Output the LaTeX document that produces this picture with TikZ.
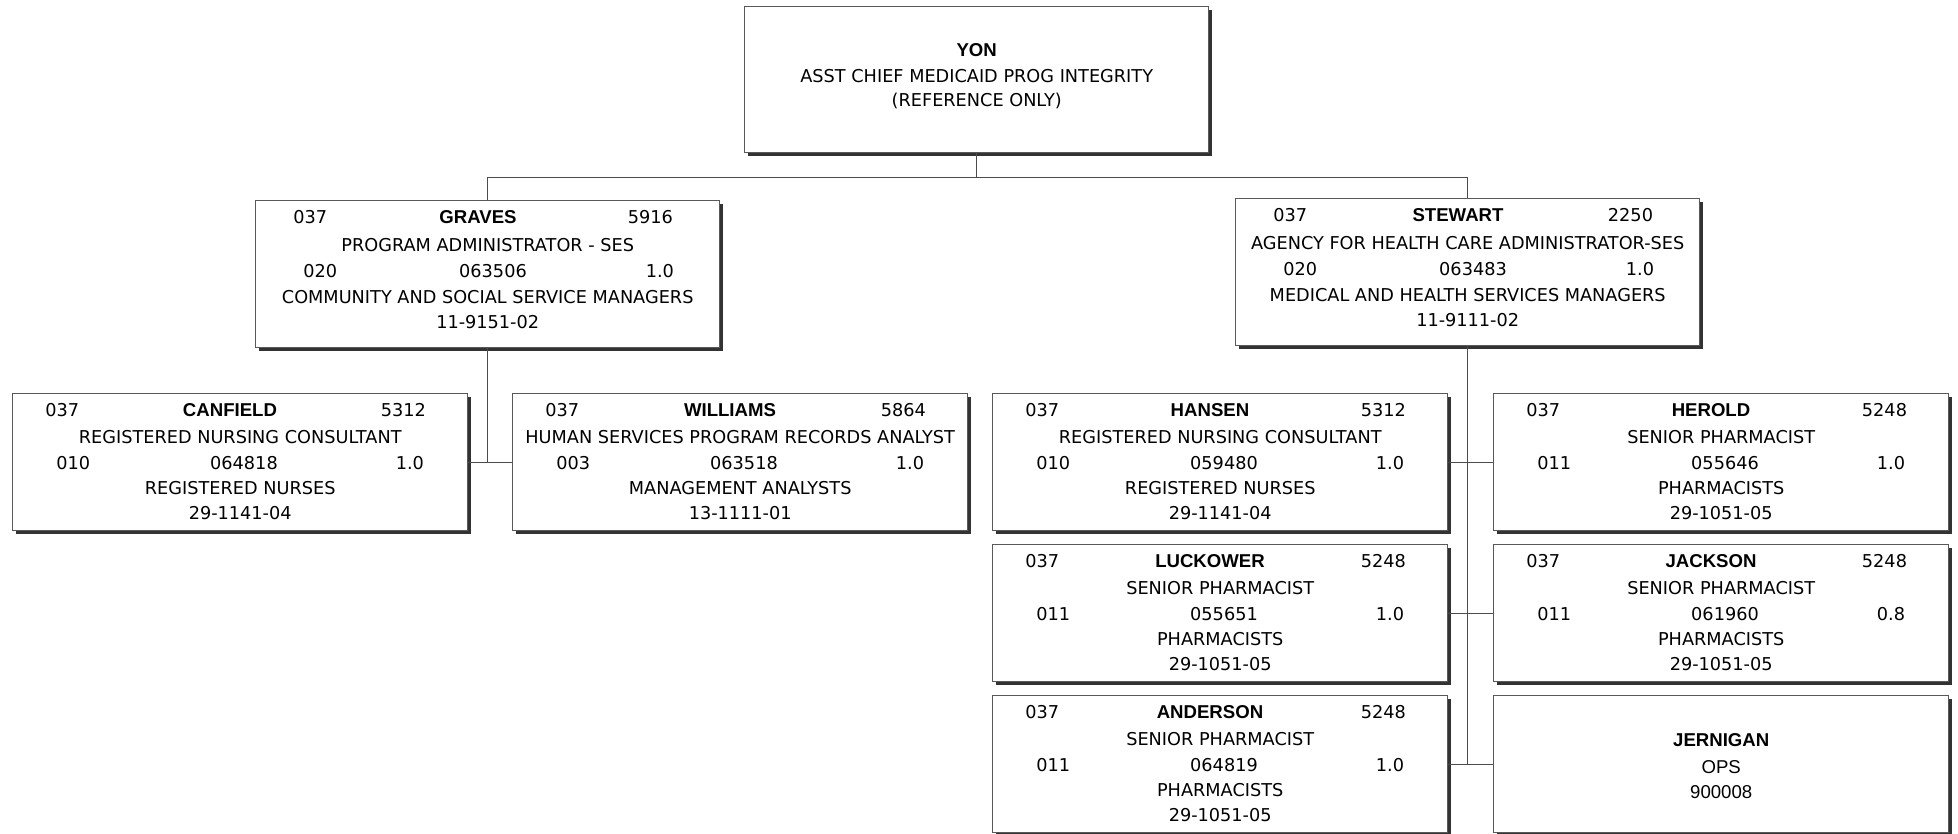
\documentclass[tikz,border=0pt]{standalone}
\usepackage{fontspec}
\setmainfont{DejaVu Sans}
\newfontfamily\arialfont{Liberation Sans}
\usetikzlibrary{calc,shadows}

% text styles
\newcommand\regfont{\fontsize{8.85}{10.6}\selectfont}
\newcommand\boldname{\arialfont\bfseries\fontsize{9.3}{11}\selectfont}

\tikzset{
  card/.style={rectangle, draw=black!65, line width=0.7pt, fill=white,
    inner sep=0pt, anchor=north west,
    drop shadow={shadow xshift=1.6pt, shadow yshift=-1.6pt, fill=black!80, opacity=1}},
  pcard/.style={card, minimum width=227.5pt, minimum height=68.5pt},
  mcard/.style={card, minimum width=232pt, minimum height=73.5pt},
  topcard/.style={card, minimum width=232pt, minimum height=73pt},
  txt/.style={inner sep=0pt, anchor=base, font=\regfont},
  nametxt/.style={inner sep=0pt, anchor=base, font=\boldname},
  opstxt/.style={inner sep=0pt, anchor=base, font=\arialfont\fontsize{9.3}{11}\selectfont},
  wire/.style={draw=black!70, line width=0.7pt},
}

% offsets of the text rows inside a card (pixels, y downwards)
\newcommand\personlayout{%
  \def\LA{33}\def\NA{218}\def\RA{42}\def\BA{23.5}\def\BB{50.5}%
  \def\LC{44}\def\NC{232}\def\RC{44}\def\BC{76.5}\def\BD{101.5}\def\BE{126.5}}
\newcommand\managerlayout{%
  \def\LA{38}\def\NA{223}\def\RA{47}\def\BA{23.5}\def\BB{51.5}%
  \def\LC{48}\def\NC{238}\def\RC{46}\def\BC{77.5}\def\BD{103.5}\def\BE{128.5}}

\newcommand\cardhead[5]{%
  \node[txt, anchor=base west] (#1-code) at ($(#1.north west)+(\LA,\BA)$) {#2};
  \node[nametxt] (#1-name) at ($(#1.north west)+(\NA,\BA)$) {#3};
  \node[txt, anchor=base east] (#1-num) at ($(#1.north east)+(-\RA,\BA)$) {#4};
  \node[txt] (#1-title) at ($(#1.north)+(0,\BB)$) {#5};
}
\newcommand\cardbody[6]{%
  \node[txt, anchor=base west] (#1-class) at ($(#1.north west)+(\LC,\BC)$) {#2};
  \node[txt] (#1-pos) at ($(#1.north west)+(\NC,\BC)$) {#3};
  \node[txt, anchor=base east] (#1-fte) at ($(#1.north east)+(-\RC,\BC)$) {#4};
  \node[txt] (#1-occ) at ($(#1.north)+(0,\BD)$) {#5};
  \node[txt] (#1-soc) at ($(#1.north)+(0,\BE)$) {#6};
}

\begin{document}
\begin{tikzpicture}[x=0.5pt, y=-0.5pt]
\useasboundingbox (0,0) rectangle (1958,834);
\fill[white] (0,0) rectangle (1958,834);

% top position
\node[topcard] (yon) at (744,6) {};
\node[nametxt] (yon-name) at ($(yon.north)+(0,50.5)$) {YON};
\node[txt] (yon-title) at ($(yon.north)+(0,77)$) {ASST CHIEF MEDICAID PROG INTEGRITY};
\node[txt] (yon-note) at ($(yon.north)+(0,101)$) {(REFERENCE ONLY)};

% managers
\managerlayout
\node[mcard] (graves) at (255,200) {};
\cardhead{graves}{037}{GRAVES}{5916}{PROGRAM ADMINISTRATOR - SES}
\cardbody{graves}{020}{063506}{1.0}{COMMUNITY AND SOCIAL SERVICE MANAGERS}{11-9151-02}

\node[mcard] (stewart) at (1235,198) {};
\cardhead{stewart}{037}{STEWART}{2250}{AGENCY FOR HEALTH CARE ADMINISTRATOR-SES}
\cardbody{stewart}{020}{063483}{1.0}{MEDICAL AND HEALTH SERVICES MANAGERS}{11-9111-02}

% staff
\personlayout
\node[pcard] (canfield) at (12,393) {};
\cardhead{canfield}{037}{CANFIELD}{5312}{REGISTERED NURSING CONSULTANT}
\cardbody{canfield}{010}{064818}{1.0}{REGISTERED NURSES}{29-1141-04}

\node[pcard] (williams) at (512,393) {};
\cardhead{williams}{037}{WILLIAMS}{5864}{HUMAN SERVICES PROGRAM RECORDS ANALYST}
\cardbody{williams}{003}{063518}{1.0}{MANAGEMENT ANALYSTS}{13-1111-01}

\node[pcard] (hansen) at (992,393) {};
\cardhead{hansen}{037}{HANSEN}{5312}{REGISTERED NURSING CONSULTANT}
\cardbody{hansen}{010}{059480}{1.0}{REGISTERED NURSES}{29-1141-04}

\node[pcard] (herold) at (1493,393) {};
\cardhead{herold}{037}{HEROLD}{5248}{SENIOR PHARMACIST}
\cardbody{herold}{011}{055646}{1.0}{PHARMACISTS}{29-1051-05}

\node[pcard] (luckower) at (992,544) {};
\cardhead{luckower}{037}{LUCKOWER}{5248}{SENIOR PHARMACIST}
\cardbody{luckower}{011}{055651}{1.0}{PHARMACISTS}{29-1051-05}

\node[pcard] (jackson) at (1493,544) {};
\cardhead{jackson}{037}{JACKSON}{5248}{SENIOR PHARMACIST}
\cardbody{jackson}{011}{061960}{0.8}{PHARMACISTS}{29-1051-05}

\node[pcard] (anderson) at (992,695) {};
\cardhead{anderson}{037}{ANDERSON}{5248}{SENIOR PHARMACIST}
\cardbody{anderson}{011}{064819}{1.0}{PHARMACISTS}{29-1051-05}

\node[pcard] (jernigan) at (1493,695) {};
\node[nametxt] (jernigan-name) at ($(jernigan.north)+(0,51.5)$) {JERNIGAN};
\node[opstxt] (jernigan-type) at ($(jernigan.north)+(0,78)$) {OPS};
\node[opstxt] (jernigan-pos) at ($(jernigan.north)+(0,103.5)$) {900008};

% reporting lines
\draw[wire] (yon.south) -- ++(0,24) coordinate (hub);
\draw[wire] (graves.north) |- (hub) -| (stewart.north);

\draw[wire] (graves.south) -- (graves.south |- canfield.east);
\draw[wire] (canfield.east) -- (williams.west);

\draw[wire] (stewart.south) -- (stewart.south |- anderson.east);
\draw[wire] (hansen.east) -- (herold.west);
\draw[wire] (luckower.east) -- (jackson.west);
\draw[wire] (anderson.east) -- (jernigan.west);
\end{tikzpicture}
\end{document}
